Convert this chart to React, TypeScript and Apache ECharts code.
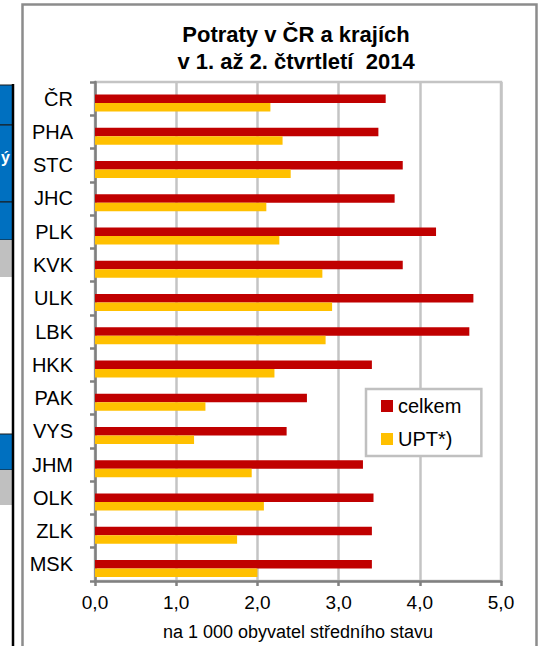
import React, { useEffect, useRef } from "react";
import * as echarts from "echarts";

const categories = ["ČR", "PHA", "STC", "JHC", "PLK", "KVK", "ULK", "LBK", "HKK", "PAK", "VYS", "JHM", "OLK", "ZLK", "MSK"];
const celkem = [3.58, 3.49, 3.79, 3.69, 4.2, 3.79, 4.66, 4.61, 3.41, 2.61, 2.36, 3.3, 3.43, 3.41, 3.41];
const upt = [2.16, 2.31, 2.41, 2.11, 2.27, 2.8, 2.92, 2.84, 2.21, 1.36, 1.22, 1.93, 2.08, 1.75, 2.0];
const xTicks = [0, 1, 2, 3, 4, 5];

const FONT = "'Liberation Sans', Arial, sans-serif";

export default function App() {
  const ref = useRef<HTMLDivElement>(null);
  useEffect(() => {
    if (!ref.current) return;
    const chart = echarts.init(ref.current, null, { renderer: "svg" });
    chart.setOption({
      animation: false,
      backgroundColor: "#ffffff",
      textStyle: { fontFamily: FONT },
      title: {
        text: "Potraty v ČR a krajích\nv 1. až 2. čtvrtletí  2014",
        left: 291,
        top: 16,
        textAlign: "center",
        textStyle: { fontFamily: FONT, fontSize: 22, fontWeight: "bold", color: "#000", lineHeight: 27 },
      },
      legend: {
        data: ["celkem", "UPT*)"],
        orient: "vertical",
        left: 366,
        top: 389,
        backgroundColor: "#fff",
        borderColor: "#c0c0c0",
        borderWidth: 2.5,
        borderRadius: 0,
        padding: [6, 20, 6, 15],
        itemWidth: 12,
        itemHeight: 12,
        itemGap: 11,
        icon: "rect",
        textStyle: { fontFamily: FONT, fontSize: 20, color: "#000", lineHeight: 22 },
      },
      grid: {
        left: 95,
        right: 48,
        top: 82,
        bottom: 64,
        show: true,
        borderColor: "#c4c4c4",
        borderWidth: 2.5,
        containLabel: false,
      },
      xAxis: {
        type: "value",
        min: xTicks[0],
        max: xTicks[xTicks.length - 1],
        interval: 1,
        name: "na 1 000 obyvatel středního stavu",
        nameLocation: "middle",
        nameGap: 42,
        nameTextStyle: { fontFamily: FONT, fontSize: 18, color: "#000" },
        axisLine: { show: true, lineStyle: { color: "#808080", width: 2.5 } },
        axisTick: { show: true, length: 5, lineStyle: { color: "#808080", width: 2.5 } },
        axisLabel: {
          fontFamily: FONT,
          fontSize: 19,
          color: "#000",
          margin: 12,
          formatter: (v: number) => v.toFixed(1).replace(".", ","),
        },
        splitLine: { show: true, lineStyle: { color: "#c4c4c4", width: 2.5 } },
      },
      yAxis: {
        type: "category",
        data: categories,
        inverse: true,
        axisLine: { show: true, lineStyle: { color: "#808080", width: 2.5 } },
        axisTick: { show: true, length: 5, lineStyle: { color: "#808080", width: 2.5 } },
        axisLabel: { fontFamily: FONT, fontSize: 20, color: "#000", margin: 22 },
        splitLine: { show: false },
      },
      series: [
        {
          name: "spacer",
          type: "bar",
          data: [],
          barWidth: 8.5,
          barGap: "0%",
          silent: true,
        },
        {
          name: "celkem",
          type: "bar",
          data: celkem,
          barWidth: 8.5,
          barGap: "0%",
          itemStyle: { color: "#C00000" },
        },
        {
          name: "UPT*)",
          type: "bar",
          data: upt,
          barWidth: 8.5,
          barGap: "0%",
          itemStyle: { color: "#FFC000" },
        },
      ],
      graphic: [
        {
          type: "rect",
          shape: { x: 22.5, y: 4.5, width: 514, height: 700 },
          style: { fill: "none", stroke: "#8c8c8c", lineWidth: 2.5 },
          silent: true,
          z: -10,
        },
        { type: "rect", shape: { x: -2, y: 85, width: 15, height: 40 }, style: { fill: "#0070C0", stroke: "#1a1a1a", lineWidth: 1 } },
        { type: "rect", shape: { x: -2, y: 125, width: 15, height: 77 }, style: { fill: "#0070C0", stroke: "#1a1a1a", lineWidth: 1 } },
        { type: "rect", shape: { x: -2, y: 202, width: 15, height: 38 }, style: { fill: "#0070C0", stroke: "#1a1a1a", lineWidth: 1 } },
        { type: "rect", shape: { x: -2, y: 240, width: 14, height: 37 }, style: { fill: "#c0c0c0" } },
        { type: "rect", shape: { x: -2, y: 434, width: 15, height: 36 }, style: { fill: "#0070C0", stroke: "#1a1a1a", lineWidth: 1 } },
        { type: "rect", shape: { x: -2, y: 470, width: 14, height: 35 }, style: { fill: "#c0c0c0" } },
        {
          type: "text",
          x: 1,
          y: 149,
          style: { text: "ý", fill: "#ffffff", font: "bold 16px 'Liberation Sans', Arial, sans-serif" },
        },
        {
          type: "line",
          shape: { x1: 13, y1: 84, x2: 13, y2: 646 },
          style: { stroke: "#000000", lineWidth: 2.5 },
        },
      ],
    });
    return () => chart.dispose();
  }, []);
  return (
    <div
      ref={ref}
      style={{ position: "fixed", left: 0, top: 0, width: 549, height: 646 }}
    />
  );
}
